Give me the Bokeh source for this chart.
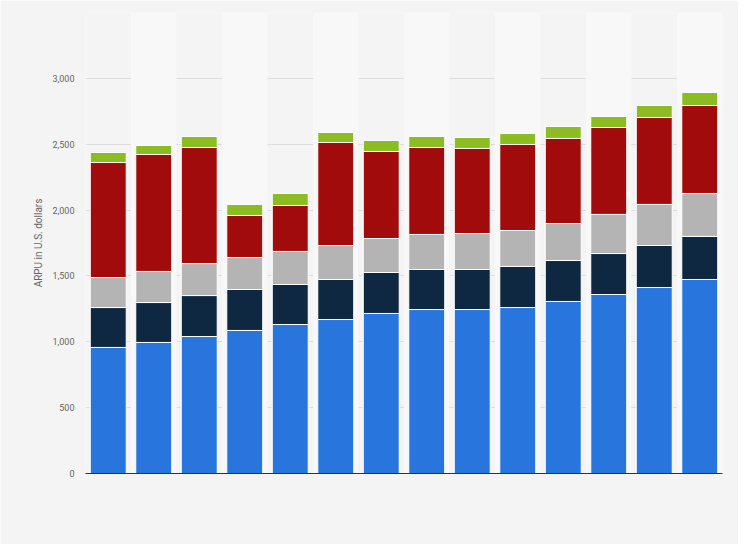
from bokeh.plotting import figure
from bokeh.embed import file_html
from bokeh.resources import INLINE
from bokeh.models import FixedTicker, ColumnDataSource

cats = list(range(1, 15))
s_blue = [957, 995, 1040, 1086, 1131, 1169, 1215, 1245, 1245, 1260, 1306, 1359, 1412, 1473]
s_navy = [303, 303, 311, 311, 304, 304, 311, 304, 304, 312, 311, 311, 319, 327]
s_gray = [228, 236, 243, 243, 251, 258, 258, 266, 273, 273, 281, 297, 312, 326]
s_red = [873, 888, 881, 319, 349, 782, 661, 660, 646, 653, 646, 660, 660, 668]
s_green = [76, 68, 84, 84, 91, 76, 83, 84, 83, 84, 91, 84, 91, 99]
yticks = [0, 500, 1000, 1500, 2000, 2500, 3000, 3500]

p = figure(width=738, height=544, output_backend="svg", toolbar_location=None,
           x_range=(0.5, 14.5), y_range=(0, 3500),
           min_border_left=85, min_border_right=16, min_border_top=12, min_border_bottom=71,
           background_fill_color="#f4f4f4", border_fill_color="#f4f4f4", outline_line_color=None)

bands = ColumnDataSource(dict(x=[c for c in cats if c % 2 == 0]))
p.vbar(x="x", top=3500, bottom=0, width=1.0, source=bands, fill_color="#f8f8f8", line_color=None)

src = ColumnDataSource(dict(x=cats, blue=s_blue, navy=s_navy, gray=s_gray, red=s_red, green=s_green))
p.vbar_stack(["blue", "navy", "gray", "red", "green"], x="x", width=0.79, source=src,
             color=["#2876dd", "#0f2841", "#b4b4b4", "#a20b0b", "#8bbc21"],
             line_color="white", line_width=1)

p.xgrid.visible = False
p.ygrid.grid_line_color = "#dddddd"
p.ygrid.ticker = FixedTicker(ticks=yticks)
p.yaxis.ticker = FixedTicker(ticks=yticks)
p.yaxis.major_label_overrides = {t: (f"{t:,}" if t < 3500 else "") for t in yticks}
p.yaxis.axis_line_color = None
p.yaxis.major_tick_line_color = None
p.yaxis.minor_tick_line_color = None
p.yaxis.major_label_text_font_size = "9px"
p.yaxis.major_label_text_color = "#666666"
p.yaxis.major_label_text_font = "Roboto"
p.yaxis.axis_label = "ARPU in U.S. dollars"
p.yaxis.axis_label_text_font_size = "10px"
p.yaxis.axis_label_text_font_style = "normal"
p.yaxis.axis_label_text_color = "#666666"
p.yaxis.axis_label_text_font = "Roboto"

p.xaxis.ticker = FixedTicker(ticks=[])
p.xaxis.axis_line_color = "#333333"
p.xaxis.major_tick_line_color = None
p.xaxis.minor_tick_line_color = None

open("out.html", "w").write(file_html(p, INLINE))
